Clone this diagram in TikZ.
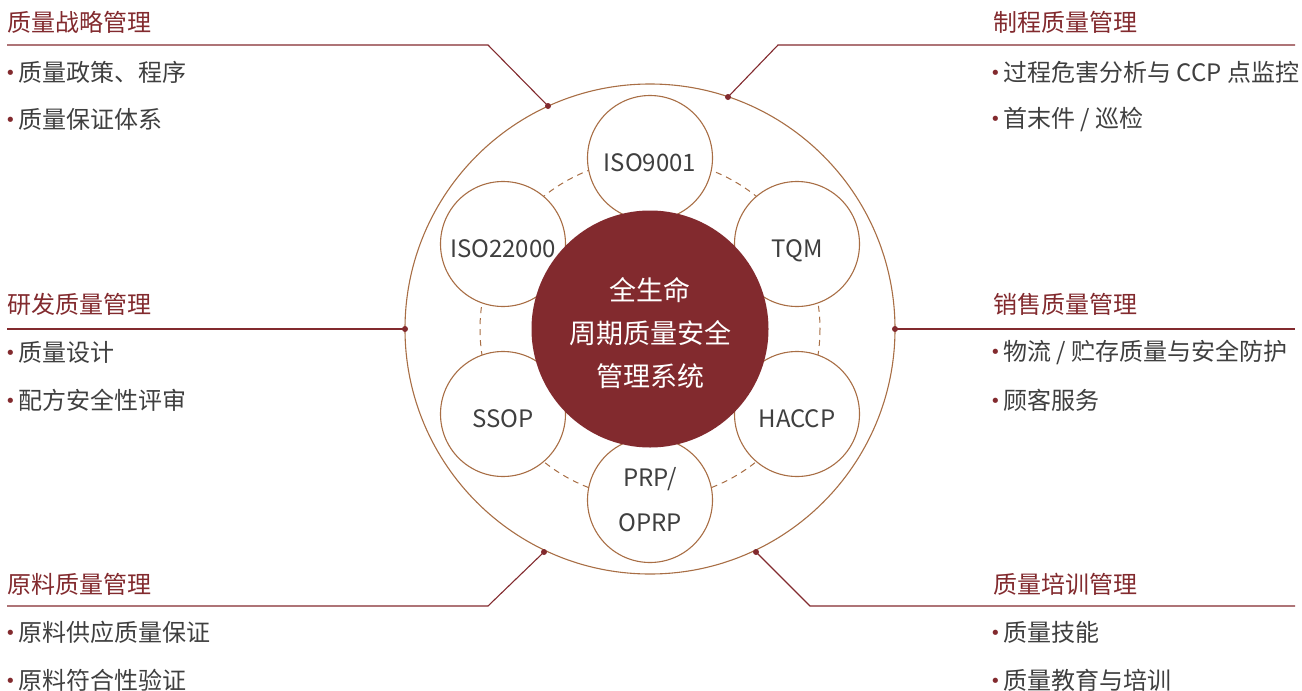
\documentclass[tikz,border=0pt]{standalone}
\usepackage{fontspec}
\setmainfont{Noto Sans CJK SC}
\newfontfamily\dotfont{DejaVu Sans}
\usepackage{xcolor}
\usepackage{tikz}

\definecolor{qred}{HTML}{822A2E}
\definecolor{qbrown}{HTML}{A86E45}
\definecolor{qtext}{HTML}{3F3F3F}
\newcommand{\itm}[1]{\raisebox{2pt}{\color{qred}\dotfont\fontsize{18}{18}\selectfont\textbullet}\hspace{2.5pt}#1}

\tikzset{
  grouptitle/.style={anchor=west, inner sep=0pt, text=qred, font=\fontsize{24}{28}\selectfont},
  bulletline/.style={anchor=west, inner sep=0pt, text=qtext, font=\fontsize{24}{28}\selectfont},
  stdcircle/.style={circle, draw=qbrown, line width=1.1pt, fill=white, minimum size=125pt, inner sep=0pt, align=center, text=qtext, font=\fontsize{24}{45}\selectfont},
  oneline/.style={text height=27pt, text depth=0pt},
  lead/.style={draw=qred, line width=1.1pt},
  pin/.style={circle, fill=qred, inner sep=0pt, minimum size=6pt},
}

\begin{document}
\begin{tikzpicture}[x=1pt, y=-1pt]
\useasboundingbox (0,0) rectangle (1302,691);
\coordinate (O) at (650,329);
\draw[qbrown, line width=1.1pt] (O) circle (245);
\draw[qbrown, line width=1pt, dash pattern=on 6pt off 5pt] (O) circle (170);
\node[stdcircle, oneline] (S1) at (650,158) {ISO9001};
\node[stdcircle, oneline] (S2) at (797,244) {TQM};
\node[stdcircle, oneline] (S3) at (797,414) {HACCP};
\node[stdcircle] (S4) at (650,500) {PRP/\\OPRP};
\node[stdcircle, oneline] (S5) at (503,414) {SSOP};
\node[stdcircle, oneline] (S6) at (503,244) {ISO22000};
\node[circle, fill=qred, minimum size=237pt, inner sep=0pt] (C) at (O) {};
\node[align=center, inner sep=0pt, text=white, font=\fontsize{27}{43}\selectfont] (Ctext) at (650,333) {全生命\\周期质量安全\\管理系统};

\node[pin] (P1) at (548,106) {};
\node[pin] (P2) at (728,97) {};
\node[pin] (P3) at (405,329) {};
\node[pin] (P4) at (895,329) {};
\node[pin] (P5) at (544,552) {};
\node[pin] (P6) at (756,552) {};
\coordinate (K1) at (488,45);
\coordinate (K2) at (778,45);
\coordinate (K5) at (488,606);
\coordinate (K6) at (810,606);
\coordinate (E1) at (7,45);
\coordinate (E2) at (1295,45);
\coordinate (E3) at (7,329);
\coordinate (E4) at (1295,329);
\coordinate (E5) at (7,606);
\coordinate (E6) at (1295,606);
\draw[lead] (P1.center) -- (K1) -- (E1);
\draw[lead] (P2.center) -- (K2) -- (E2);
\draw[lead] (P3.center) -- (E3);
\draw[lead] (P4.center) -- (E4);
\draw[lead] (P5.center) -- (K5) -- (E5);
\draw[lead] (P6.center) -- (K6) -- (E6);

\node[grouptitle] (T1) at (7,22) {质量战略管理};
\node[bulletline] (B11) at (5,72) {\itm{质量政策、程序}};
\node[bulletline] (B12) at (5,119) {\itm{质量保证体系}};
\node[grouptitle] (T2) at (993,22) {制程质量管理};
\node[bulletline] (B21) at (990,72) {\itm{过程危害分析与 CCP 点监控}};
\node[bulletline] (B22) at (990,119) {\itm{首末件 / 巡检}};
\node[grouptitle] (T3) at (7,304) {研发质量管理};
\node[bulletline] (B31) at (5,352) {\itm{质量设计}};
\node[bulletline] (B32) at (5,400) {\itm{配方安全性评审}};
\node[grouptitle] (T4) at (993,304) {销售质量管理};
\node[bulletline] (B41) at (990,352) {\itm{物流 / 贮存质量与安全防护}};
\node[bulletline] (B42) at (990,400) {\itm{顾客服务}};
\node[grouptitle] (T5) at (7,584) {原料质量管理};
\node[bulletline] (B51) at (5,632) {\itm{原料供应质量保证}};
\node[bulletline] (B52) at (5,680) {\itm{原料符合性验证}};
\node[grouptitle] (T6) at (993,584) {质量培训管理};
\node[bulletline] (B61) at (990,632) {\itm{质量技能}};
\node[bulletline] (B62) at (990,680) {\itm{质量教育与培训}};
\end{tikzpicture}
\end{document}
